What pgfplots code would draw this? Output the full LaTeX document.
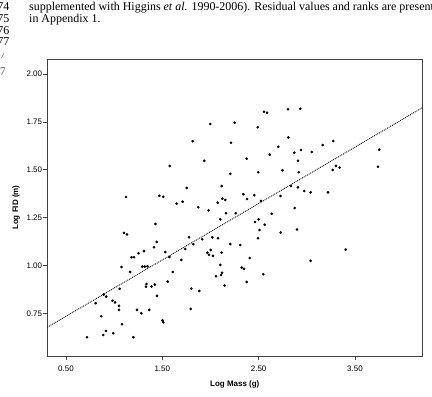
\documentclass[border=0pt]{standalone}
\usepackage{fontspec}
\setmainfont{Liberation Serif}
\newfontfamily\arial{Liberation Sans}
\usepackage{pgfplots}
\pgfplotsset{compat=1.18}
\begin{document}
\begin{tikzpicture}
\begin{axis}[
  name=main,
  at={(0bp,0bp)}, anchor=south west,
  scale only axis, width=375bp, height=296.7bp,
  xmin=0.306, xmax=4.199, ymin=0.527, ymax=2.077,
  axis line style={black!75, line width=0.7pt},
  tick pos=left, tick align=outside, major tick length=4bp,
  tick style={black!75, line width=0.6pt},
  xtick={0.5,1.5,2.5,3.5},
  ytick={0.75,1.00,1.25,1.50,1.75,2.00},
  ticklabel style={font=\arial\fontsize{8}{9}\selectfont},
  yticklabel style={inner sep=1bp},
  xticklabel style={yshift=-2bp},
  /pgf/number format/fixed,
  /pgf/number format/fixed zerofill,
  /pgf/number format/precision=2,
  /pgf/number format/assume math mode=true,
  xlabel={Log Mass (g)}, ylabel={Log FID (m)},
  label style={font=\arial\bfseries\fontsize{8}{9}\selectfont},
  xlabel style={at={(axis description cs:0.5,0)}, anchor=north, yshift=-21bp},
  ylabel style={at={(axis description cs:-0.0835,0.5)}, anchor=center},
]
\addplot[only marks, mark=*, mark size=1.15pt, black] coordinates {
(1.123,1.358) (1.102,1.170) (1.133,1.162) (1.180,1.043) (1.206,1.043)
(1.253,1.064) (1.310,1.075) (1.076,0.992) (1.292,0.994) (1.318,0.994)
(1.346,0.996) (1.166,0.966) (1.336,0.903) (1.330,0.889) (1.058,0.878)
(0.891,0.848) (0.918,0.837) (0.983,0.816) (1.009,0.807) (0.808,0.803)
(1.050,0.789) (1.050,0.768) (1.237,0.768) (1.282,0.750) (1.364,0.768)
(0.866,0.735) (1.081,0.693) (0.915,0.658) (0.887,0.637) (0.991,0.646)
(0.718,0.625) (1.199,0.625)
(2.805,1.816) (2.555,1.803) (2.587,1.798) (1.998,1.739) (2.251,1.746)
(2.490,1.722) (2.808,1.669) (1.815,1.649) (2.213,1.641) (2.704,1.620)
(2.615,1.579) (2.376,1.558) (1.936,1.547) (1.577,1.520) (2.747,1.497)
(2.496,1.487) (2.206,1.479) (2.116,1.415) (1.753,1.405) (1.469,1.364)
(1.510,1.359) (2.341,1.372) (2.455,1.367) (2.727,1.363) (2.123,1.349)
(2.154,1.342) (2.379,1.347) (1.711,1.333) (1.649,1.323) (2.075,1.328)
(2.524,1.337) (1.873,1.304) (1.981,1.288) (2.161,1.273) (2.262,1.273)
(2.635,1.270) (2.102,1.241) (2.500,1.241) (2.462,1.227) (2.563,1.213)
(1.429,1.217) (2.509,1.185)
(2.932,1.819) (3.165,1.629) (3.275,1.650) (2.870,1.589) (2.940,1.603)
(3.051,1.593) (3.752,1.605) (2.908,1.547) (2.916,1.487) (3.269,1.499)
(3.303,1.520) (3.341,1.511) (3.739,1.516) (2.836,1.415) (2.908,1.408)
(2.974,1.389) (3.040,1.382) (3.220,1.382) (2.874,1.300) (2.898,1.188)
(2.729,1.172) (3.404,1.083) (3.040,1.024)
(2.493,1.142) (1.414,1.095) (1.442,1.123) (1.531,1.070) (1.574,1.044)
(1.777,1.147) (1.822,1.111) (1.738,1.086) (1.915,1.137) (2.019,1.147)
(2.078,1.142) (2.206,1.112) (2.309,1.107) (2.002,1.081) (1.967,1.067)
(1.984,1.056) (2.026,1.050) (2.116,1.067) (1.697,1.029) (2.407,1.039)
(1.609,0.966) (2.102,1.003) (2.324,0.989) (2.348,0.982) (2.119,0.962)
(2.109,0.950) (2.057,0.944) (2.548,0.954) (1.557,0.916) (1.388,0.890)
(1.422,0.900) (2.376,0.914) (2.147,0.895) (1.445,0.841) (1.801,0.879)
(1.884,0.867) (1.795,0.773) (1.510,0.703) (1.502,0.713)
};
\addplot[black, densely dotted, line width=0.9pt] coordinates {(0.306,0.6773) (4.199,1.824)};
\end{axis}
\begin{scope}[shift={(main.south west)}, x=1bp, y=1bp]
\path[use as bounding box] (-47.3,-40) rectangle (384.7,356);
\begin{scope}[every node/.style={anchor=base west, inner sep=0pt, font=\fontsize{12}{14}\selectfont}]
\node at (-18.3,345.5) {supplemented with Higgins \textit{et al.} 1990-2006). Residual values and ranks are presented};
\node at (-18.3,333.7) {in Appendix 1.};
\end{scope}
\begin{scope}[every node/.style={anchor=base east, inner sep=0pt, font=\fontsize{12}{14}\selectfont}]
\node at (-37.8,345.5) {74};
\node at (-37.8,333.7) {75};
\node at (-37.8,321.9) {76};
\node at (-37.8,310.1) {77};
\end{scope}
\begin{scope}
\clip (-47.3,298) rectangle (-42.3,303);
\node[anchor=base west, inner sep=0pt, font=\fontsize{12}{14}\selectfont, black!60] at (-47.5,298) {7};
\end{scope}
\begin{scope}
\clip (-47.3,281) rectangle (-42.3,290);
\node[anchor=base west, inner sep=0pt, font=\fontsize{12}{14}\selectfont, black!60] at (-47.5,281) {7};
\end{scope}
\end{scope}
\end{tikzpicture}
\end{document}
